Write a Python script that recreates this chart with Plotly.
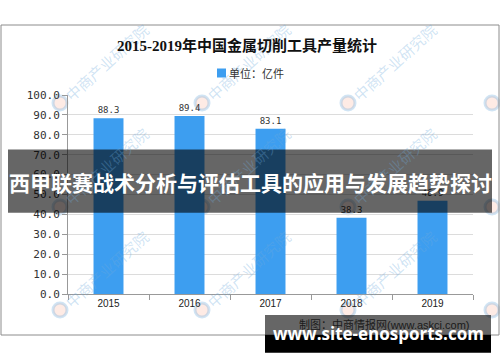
import plotly.graph_objects as go

# ---- data ----
years = ["2015", "2016", "2017", "2018", "2019"]
output = [88.3, 89.4, 83.1, 38.3, 46.9]
title_text = "2015-2019年中国金属切削工具产量统计"
legend_text = "单位：亿件"
banner_text = "西甲联赛战术分析与评估工具的应用与发展趋势探讨"
source_text = "制图：中商情报网(www.askci.com)"
site_text = "www.site-enosports.com"
watermark_text = "中商产业研究院"

# ---- geometry helpers (pixel -> paper) ----
W, H = 500, 362
L, R, T, B = 68, 27, 95, 68
PW, PH = W - L - R, H - T - B


def px(x):
    return (x - L) / PW


def py(y):
    return 1 - (y - T) / PH


BAR = "#3d9ef0"

fig = go.Figure(
    go.Bar(
        x=years,
        y=output,
        width=0.37,
        marker=dict(color=BAR, line=dict(width=0)),
        texttemplate="%{y:.1f}",
        textposition="outside",
        textfont=dict(family="DejaVu Sans Mono", size=9, color="#333333"),
        cliponaxis=False,
        name=legend_text,
        showlegend=False,
    )
)

shapes = []
annotations = []

# watermark grid
wm_cols = [-85, 60, 202, 348, 492]
wm_rows = [103, 207, 310]
wm_col = "rgba(110,170,220,0.32)"
for yy in wm_rows:
    for xx in wm_cols:
        shapes.append(dict(type="circle", xref="paper", yref="paper",
                           x0=px(xx - 7), x1=px(xx + 7), y0=py(yy + 7), y1=py(yy - 7),
                           line=dict(color=wm_col, width=3),
                           fillcolor="rgba(250,175,150,0.25)", layer="below"))
        if 0 < xx < 450:
            annotations.append(dict(xref="paper", yref="paper", x=px(xx + 46), y=py(yy - 41),
                                    text=watermark_text, showarrow=False, textangle=-42,
                                    xanchor="center", yanchor="middle",
                                    font=dict(family="Noto Sans CJK SC", size=15, color=wm_col)))

# outer frame
shapes.append(dict(type="rect", xref="paper", yref="paper",
                   x0=px(1), x1=px(499), y0=py(335), y1=py(25),
                   line=dict(color="#8c8c8c", width=1), layer="below"))
# legend square
shapes.append(dict(type="rect", xref="paper", yref="paper",
                   x0=px(217), x1=px(226), y0=py(77.5), y1=py(68.5),
                   line=dict(width=0), fillcolor=BAR, layer="above"))
# banner
shapes.append(dict(type="rect", xref="paper", yref="paper",
                   x0=px(8), x1=px(492), y0=py(212.7), y1=py(149.5),
                   line=dict(width=0), fillcolor="rgba(0,0,0,0.6)", layer="above"))
# bottom site box
shapes.append(dict(type="rect", xref="paper", yref="paper",
                   x0=px(265), x1=px(491), y0=py(335), y1=py(315),
                   line=dict(width=0), fillcolor="rgba(0,0,0,0.6)", layer="above"))
shapes.append(dict(type="rect", xref="paper", yref="paper",
                   x0=px(265), x1=px(491), y0=py(352.7), y1=py(335),
                   line=dict(width=0), fillcolor="#000000", layer="above"))

# title
annotations.append(dict(xref="paper", yref="paper", x=px(247), y=py(45),
                        text="<b>" + title_text + "</b>", showarrow=False,
                        xanchor="center", yanchor="middle",
                        font=dict(family="Liberation Serif, Noto Sans CJK SC", size=15, color="#111111")))
# legend text
annotations.append(dict(xref="paper", yref="paper", x=px(227), y=py(73),
                        text=legend_text, showarrow=False,
                        xanchor="left", yanchor="middle",
                        font=dict(family="Noto Sans CJK SC", size=11, color="#333333")))
# source (under the overlay, hence dark)
annotations.append(dict(xref="paper", yref="paper", x=px(384), y=py(324),
                        text=source_text, showarrow=False,
                        xanchor="center", yanchor="middle",
                        font=dict(family="Liberation Sans, Noto Sans CJK SC", size=11, color="#1a1a1a")))
# banner text
annotations.append(dict(xref="paper", yref="paper", x=px(250), y=py(182),
                        text="<b>" + banner_text + "</b>", showarrow=False,
                        xanchor="center", yanchor="middle",
                        font=dict(family="Noto Sans CJK SC", size=21, color="#ffffff")))
# site text
annotations.append(dict(xref="paper", yref="paper", x=px(378), y=py(333),
                        text="<b>" + site_text + "</b>", showarrow=False,
                        xanchor="center", yanchor="middle",
                        font=dict(family="Open Sans", size=17, color="#ffffff")))

fig.update_layout(
    width=W, height=H,
    margin=dict(l=L, r=R, t=T, b=B, pad=0),
    paper_bgcolor="white", plot_bgcolor="white",
    showlegend=False,
    bargap=0.5,
    xaxis=dict(type="category", range=[-0.5, 4.5], tickson="boundaries",
               ticks="outside", ticklen=5, tickcolor="#999999",
               showline=True, linecolor="#999999", showgrid=False,
               tickfont=dict(family="Liberation Sans", size=10, color="#222222")),
    yaxis=dict(range=[0, 100], tick0=0, dtick=10, tickformat=".1f",
               ticks="outside", ticklen=5, tickcolor="#999999",
               showline=True, linecolor="#999999", zeroline=False,
               gridcolor="#dcdcdc", gridwidth=1,
               tickfont=dict(family="DejaVu Sans Mono", size=11, color="#333333")),
    shapes=shapes,
    annotations=annotations,
)

fig.write_html("out.html")
